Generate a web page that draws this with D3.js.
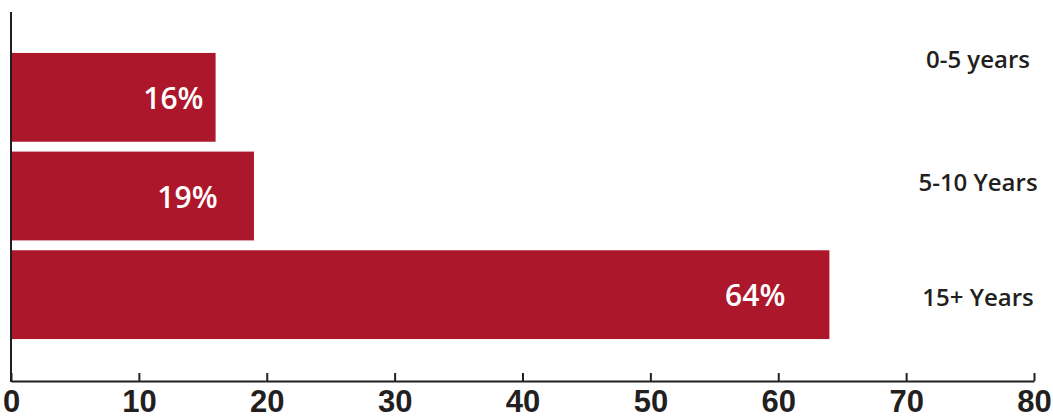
<!DOCTYPE html>
<html>
<head>
<meta charset="utf-8">
<script src="https://cdn.jsdelivr.net/npm/d3@7"></script>
<style>
    body { margin: 0; background: #fff; }
    svg { display: block; font-family: "Open Sans", "Noto Sans", sans-serif; }
    .axis path, .axis line { stroke: #231f20; stroke-width: 2; }
    .axis text { fill: #231f20; font-size: 31px; font-weight: 700; }
    .bar { fill: #ad172b; }
    .bar-label { fill: #fff; font-size: 30px; font-weight: 600; }
    .cat-label { fill: #231f20; font-size: 24px; font-weight: 600; }
</style>
</head>
<body>
<div id="chart"></div>
<script>
// data
let categories = ["0-5 years", "5-10 Years", "15+ Years"];
let values = [16, 19, 64];
let valueLabels = ["16%", "19%", "64%"];
let xTicks = [0, 10, 20, 30, 40, 50, 60, 70, 80];

// layout
const width = 1053, height = 418;
const plotLeft = 11, plotRight = 1034, plotTop = 12, axisY = 381;
// where the % labels sit, in axis units (they are not at a fixed gap from the bar end)
const labelAt = [12.7, 13.8, 58.2];
// the category labels are not centred on the bars
const catDy = [-39, -15, 2];

let svg = d3.select("#chart").append("svg")
    .attr("width", width)
    .attr("height", height);

let x = d3.scaleLinear().domain([0, 80]).range([plotLeft, plotRight]);
let y = d3.scaleBand().domain(categories).range([48, 344])
    .paddingInner(0.1).paddingOuter(0.05);

// bars
svg.selectAll("rect.bar")
    .data(values)
    .enter()
    .append("rect")
    .attr("class", "bar")
    .attr("x", x(0))
    .attr("y", (d, i) => y(categories[i]))
    .attr("width", d => x(d) - x(0))
    .attr("height", y.bandwidth());

// value labels inside the bars
svg.selectAll("text.bar-label")
    .data(valueLabels)
    .enter()
    .append("text")
    .attr("class", "bar-label")
    .attr("x", (d, i) => x(labelAt[i]))
    .attr("y", (d, i) => y(categories[i]) + y.bandwidth() / 2)
    .attr("text-anchor", "middle")
    .attr("dominant-baseline", "central")
    .text(d => d);

// category labels on the right
svg.selectAll("text.cat-label")
    .data(categories)
    .enter()
    .append("text")
    .attr("class", "cat-label")
    .attr("x", 978)
    .attr("y", (d, i) => y(d) + y.bandwidth() / 2 + catDy[i])
    .attr("text-anchor", "middle")
    .attr("dominant-baseline", "central")
    .text(d => d);

// x axis, ticks point up
let xAxis = d3.axisBottom(x).tickValues(xTicks).tickSize(-8).tickSizeOuter(0).tickPadding(0);
let gx = svg.append("g")
    .attr("class", "axis")
    .attr("transform", "translate(0," + axisY + ")")
    .call(xAxis);
gx.selectAll("text").attr("y", 31).attr("dy", 0);

// y axis line
svg.append("line")
    .attr("class", "yline")
    .attr("x1", plotLeft).attr("x2", plotLeft)
    .attr("y1", plotTop).attr("y2", axisY + 1)
    .attr("stroke", "#231f20")
    .attr("stroke-width", 2);
</script>
</body>
</html>
